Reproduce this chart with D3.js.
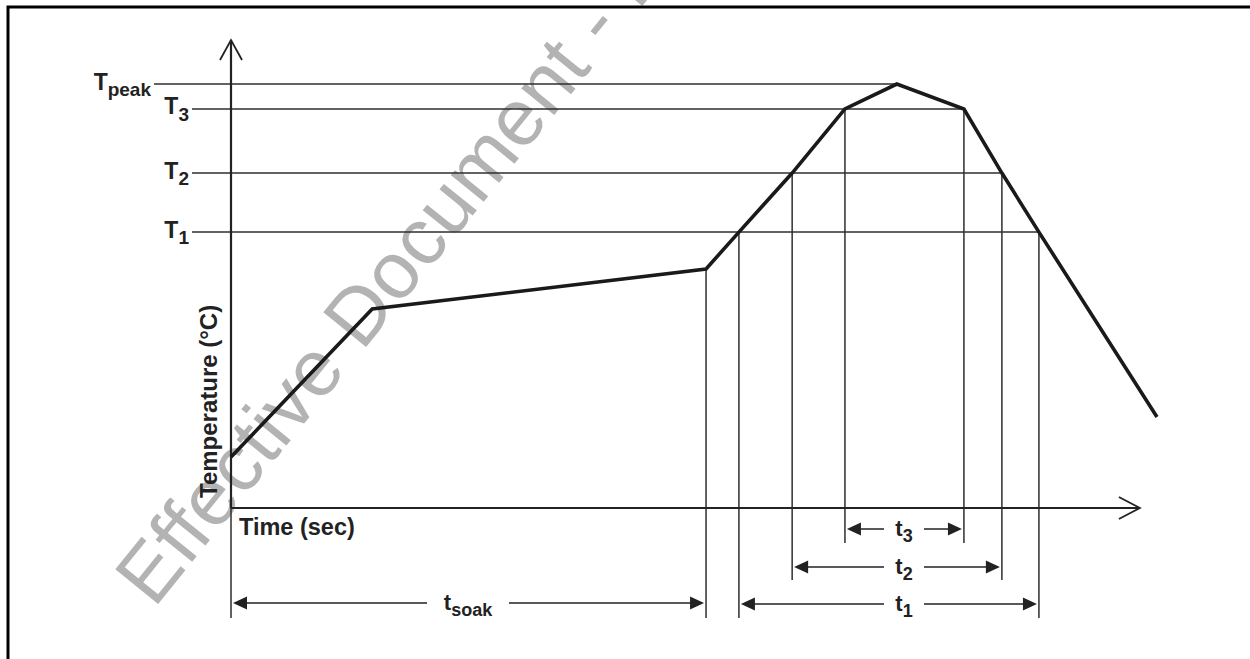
<!DOCTYPE html>
<html>
<head>
<meta charset="utf-8">
<script src="https://cdn.jsdelivr.net/npm/d3@7"></script>
<style>
  html, body { margin: 0; padding: 0; background: #fff; }
  svg { display: block; }
</style>
</head>
<body>
<script>
const width = 1250;
const height = 659;

// Reflow profile, time (arbitrary sec) vs temperature (deg C)
const profileTime = [0, 30.5, 102.6, 109.7, 121.2, 132.6, 143.8, 158.3, 166.5, 174.5, 200];
const profileTemp = [31.3, 122, 146.6, 169.2, 205.4, 244.7, 260, 244.7, 205.4, 169.2, 55.8];

// Temperature levels and their labels
const levelNames = ["Tpeak", "T3", "T2", "T1"];
const levelMain = ["T", "T", "T", "T"];
const levelSub = ["peak", "3", "2", "1"];
const levelTemp = [260, 244.7, 205.4, 169.2];
const levelEnd = [143.8, 158.3, 166.5, 174.5];   // time where each guide ends

// Duration spans (start / end time)
const spanSub = ["soak", "1", "2", "3"];
const spanStart = [0, 109.7, 121.2, 132.6];
const spanEnd = [102.6, 174.5, 166.5, 158.3];
const spanTempStart = [31.3, 169.2, 205.4, 244.7];   // temperature where vertical leaves the curve
const spanTempEnd = [146.6, 169.2, 205.4, 244.7];

const X_MAX = 196.3;   // end of time axis
const Y_MAX = 287;     // end of temperature axis

const INK = "#222";
const GUIDE = "#2e2e2e";
const FONT = "'Liberation Sans', Arial, Helvetica, sans-serif";

const x = d3.scaleLinear().domain([0, 200]).range([231, 1157]);
const y = d3.scaleLinear().domain([0, Y_MAX]).range([508, 40]);

// layout of the dimension rows under the axis
const spanRowY = [603, 604, 567, 529];
const spanBottom = [618, 618, 580, 543];
const spanLabelX = [468, 904, 904, 904];
const spanGap = [41, 20, 20, 20];

const svg = d3.select("body").append("svg")
    .attr("width", width)
    .attr("height", height);

// watermark (sits under the drawing, runs off the top edge like the original)
svg.append("text")
    .attr("transform", "translate(154,609) rotate(-51)")
    .attr("font-family", FONT)
    .attr("font-size", 80)
    .attr("letter-spacing", 0.3)
    .attr("fill", "#b3b3b3")
    .text("Effective Document - F");

// page frame, left and top edges only
svg.append("path")
    .attr("d", `M8,${height} L8,7 L${width},7`)
    .attr("fill", "none")
    .attr("stroke", "#000")
    .attr("stroke-width", 3);

const guides = svg.append("g")
    .attr("stroke", GUIDE)
    .attr("stroke-width", 1.5)
    .attr("fill", "none");

// horizontal temperature guides
levelTemp.forEach((t, i) => {
    const x0 = i === 0 ? 154 : 192;
    guides.append("line")
        .attr("x1", x0).attr("x2", x(levelEnd[i]))
        .attr("y1", y(t)).attr("y2", y(t));
});

// vertical guides down to each dimension row
spanStart.forEach((s, i) => {
    guides.append("line")
        .attr("x1", x(s)).attr("x2", x(s))
        .attr("y1", y(spanTempStart[i])).attr("y2", spanBottom[i]);
    guides.append("line")
        .attr("x1", x(spanEnd[i])).attr("x2", x(spanEnd[i]))
        .attr("y1", y(spanTempEnd[i])).attr("y2", spanBottom[i]);
});

// level labels
levelTemp.forEach((t, i) => {
    const right = i === 0 ? 151 : 189;
    const txt = svg.append("text")
        .attr("x", right)
        .attr("y", y(t) + 5.5)
        .attr("text-anchor", "end")
        .attr("font-family", FONT)
        .attr("font-weight", "bold")
        .attr("fill", INK);
    txt.append("tspan").attr("font-size", 23).text(levelMain[i]);
    txt.append("tspan").attr("font-size", 19).attr("dy", i === 0 ? 6 : 6.5).text(levelSub[i]);
});

// filled arrowhead pointing in direction dir (+1 right, -1 left)
function arrowHead(g, tipX, cy, dir) {
    const len = 14, half = 6.5;
    g.append("path")
        .attr("d", `M${tipX},${cy} L${tipX - dir * len},${cy - half} L${tipX - dir * len},${cy + half} Z`)
        .attr("fill", INK);
}

// dimension lines
const dims = svg.append("g");
spanStart.forEach((s, i) => {
    const cy = spanRowY[i];
    const xa = x(s) + 2, xb = x(spanEnd[i]) - 2;
    const lx = spanLabelX[i];
    dims.append("line")
        .attr("x1", xa + 8).attr("x2", lx - spanGap[i])
        .attr("y1", cy).attr("y2", cy)
        .attr("stroke", INK).attr("stroke-width", 1.5);
    dims.append("line")
        .attr("x1", lx + spanGap[i]).attr("x2", xb - 8)
        .attr("y1", cy).attr("y2", cy)
        .attr("stroke", INK).attr("stroke-width", 1.5);
    arrowHead(dims, xa, cy, -1);
    arrowHead(dims, xb, cy, 1);
    const txt = dims.append("text")
        .attr("x", lx)
        .attr("y", cy + 6.5)
        .attr("text-anchor", "middle")
        .attr("font-family", FONT)
        .attr("font-weight", "bold")
        .attr("fill", INK);
    txt.append("tspan").attr("font-size", 22).text("t");
    txt.append("tspan").attr("font-size", 18).attr("dy", 6).text(spanSub[i]);
});

// axes with open arrowheads
const axes = svg.append("g")
    .attr("stroke", INK)
    .attr("stroke-width", 2.2)
    .attr("fill", "none");
axes.append("line")
    .attr("x1", x(0)).attr("x2", x(0))
    .attr("y1", y(0)).attr("y2", y(Y_MAX));
axes.append("line")
    .attr("x1", x(0)).attr("x2", x(X_MAX))
    .attr("y1", y(0)).attr("y2", y(0));
axes.append("path")
    .attr("d", `M${x(0) - 11},${y(Y_MAX) + 20} L${x(0)},${y(Y_MAX)} L${x(0) + 11},${y(Y_MAX) + 20}`)
    .attr("stroke-width", 1.8);
axes.append("path")
    .attr("d", `M${x(X_MAX) - 21},${y(0) - 11} L${x(X_MAX)},${y(0)} L${x(X_MAX) - 21},${y(0) + 11}`)
    .attr("stroke-width", 1.8);

// profile curve
const line = d3.line()
    .x((d, i) => x(profileTime[i]))
    .y(d => y(d));
svg.append("path")
    .datum(profileTemp)
    .attr("d", line)
    .attr("fill", "none")
    .attr("stroke", "#1a1a1a")
    .attr("stroke-width", 3.6)
    .attr("stroke-linejoin", "miter");

// axis titles
svg.append("text")
    .attr("x", x(0) + 8)
    .attr("y", y(0) + 27)
    .attr("font-family", FONT)
    .attr("font-weight", "bold")
    .attr("font-size", 23.5)
    .attr("fill", INK)
    .text("Time (sec)");

svg.append("text")
    .attr("transform", `translate(${x(0) - 14},${y(0) - 10}) rotate(-90)`)
    .attr("font-family", FONT)
    .attr("font-weight", "bold")
    .attr("font-size", 24)
    .attr("fill", INK)
    .text("Temperature (°C)");
</script>
</body>
</html>
